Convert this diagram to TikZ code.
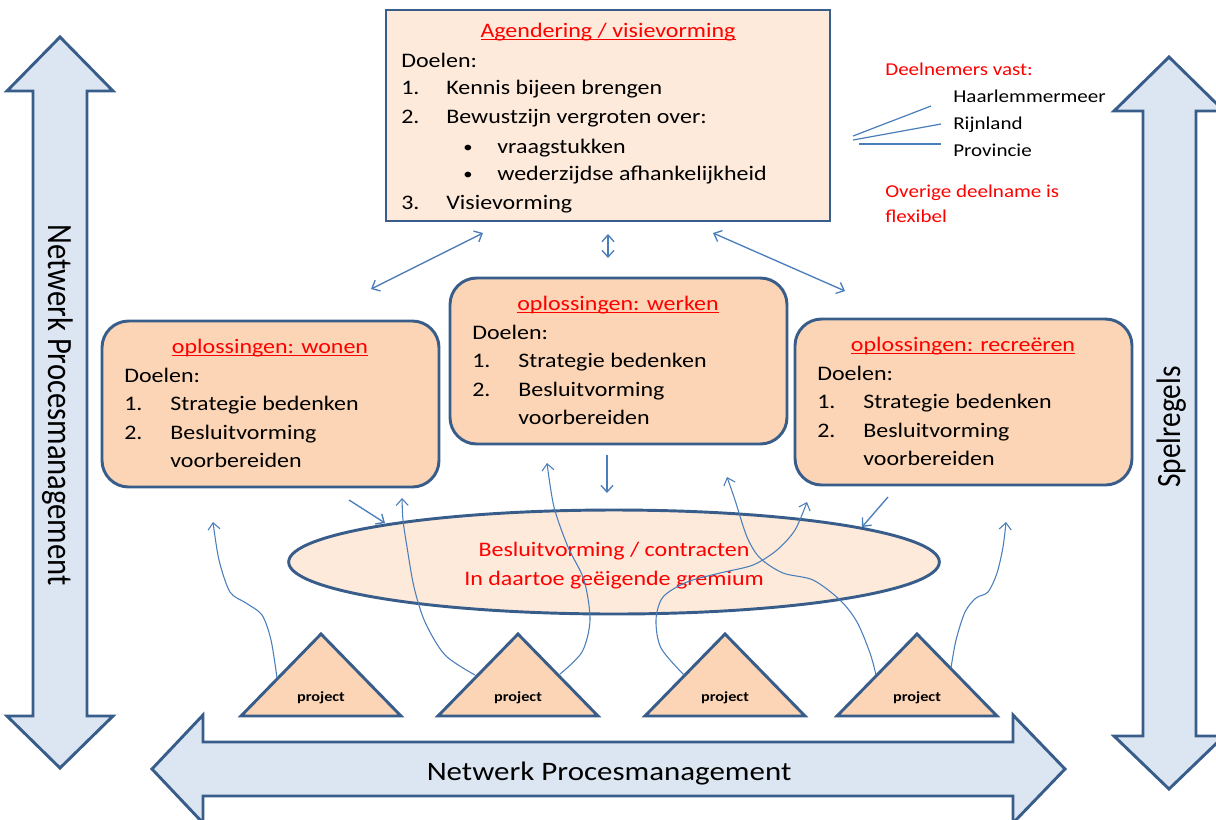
\documentclass[tikz,border=0pt]{standalone}
\usepackage{fontspec}
\setmainfont{Carlito}
\usetikzlibrary{arrows.meta,fit,shapes.geometric}

\definecolor{rand}{RGB}{56,93,138}
\definecolor{pijlblauw}{RGB}{220,230,242}
\definecolor{lichtzalm}{RGB}{253,234,218}
\definecolor{zalm}{RGB}{251,213,181}
\definecolor{lijn}{RGB}{74,126,187}
\definecolor{rood}{RGB}{255,0,0}

\newcommand{\onderstreept}[1]{\textcolor{rood}{\setbox0\hbox{#1}\rlap{\rule[-2.3pt]{\wd0}{0.9pt}}\box0}}

\begin{document}
\begin{tikzpicture}[x=0.75pt,y=-0.75pt,
  >={Straight Barb[length=5pt,width=9pt]},
  blok/.style={draw=rand,line width=2.2pt,line join=miter},
  kader/.style={draw=rand,line width=2.2pt,fill=zalm,rounded corners=20pt},
  txt/.style={inner sep=0pt,anchor=base west,xscale=1.16,font=\fontsize{15.5}{18}\selectfont},
  kop/.style={txt,anchor=base},
  rtxt/.style={kop,text=rood},
  ntxt/.style={txt,font=\fontsize{13.6}{16}\selectfont},
  grtxt/.style={inner sep=0pt,anchor=base,xscale=1.16,font=\fontsize{23}{26}\selectfont},
  projtxt/.style={inner sep=0pt,anchor=base,xscale=1.16,font=\fontsize{10.5}{12}\selectfont\bfseries},
  pijl/.style={draw=lijn,line width=1pt,->},
  dpijl/.style={draw=lijn,line width=1pt,<->},
  bocht/.style={draw=lijn,line width=0.8pt,->},
  lijntje/.style={draw=lijn,line width=0.9pt}]
  \useasboundingbox (0,0) rectangle (1216,819);

  % grote pijlen
  \draw[blok,fill=pijlblauw] (60,37) -- (113,91) -- (87,91) -- (87,716) -- (113,716) -- (60,768) -- (7,716) -- (33,716) -- (33,91) -- (7,91) -- cycle;
  \draw[blok,fill=pijlblauw] (1169,57) -- (1224,111) -- (1196,111) -- (1196,736) -- (1224,736) -- (1169,789) -- (1114,736) -- (1143,736) -- (1143,111) -- (1114,111) -- cycle;
  \draw[blok,fill=pijlblauw] (152,769) -- (203,715) -- (203,742) -- (1013,742) -- (1013,715) -- (1065,769) -- (1013,823) -- (1013,796) -- (203,796) -- (203,823) -- cycle;
  \node[grtxt,rotate=-90] (proceslinks) at (48,405) {Netwerk Procesmanagement};
  \node[grtxt,rotate=90,font=\fontsize{22}{26}\selectfont] (spelregels) at (1180,427) {Spelregels};
  \node[grtxt,font=\fontsize{20}{24}\selectfont] (procesonder) at (609,780) {Netwerk Procesmanagement};

  % agendering
  \node[blok,fill=lichtzalm,fit={(386,10) (830,221)},inner sep=0pt] (agenda) {};
  \node[kop] (agendakop) at (608,37) {\onderstreept{Agendering / visievorming}};
  \node[txt] (agendadoel) at (401,67) {Doelen:};
  \foreach \nr/\tekst/\y in {1./Kennis bijeen brengen/94, 2./Bewustzijn vergroten over:/123, 3./Visievorming/209} {
    \node[txt] (nr\y) at (401,\y) {\nr};
    \node[txt] (item\y) at (446,\y) {\tekst};
  }
  \foreach \tekst/\y in {vraagstukken/153, wederzijdse afhankelijkheid/180} {
    \node[txt,font=\fontsize{12}{14}\selectfont] (bol\y) at (463,\y-1) {\textbullet};
    \node[txt] (item\y) at (497,\y) {\tekst};
  }

  % deelnemers
  \node[ntxt,text=rood] (vast) at (885,75) {Deelnemers vast:};
  \node[ntxt] (haarlem) at (953,102) {Haarlemmermeer};
  \node[ntxt] (rijnland) at (953,129) {Rijnland};
  \node[ntxt] (provincie) at (953,156) {Provincie};
  \node[ntxt,text=rood] (overig) at (885,197) {Overige deelname is};
  \node[ntxt,text=rood] (flexibel) at (885,222) {flexibel};
  \coordinate (waaier1) at (853,136);
  \coordinate (waaier2) at (853,140);
  \coordinate (waaier3) at (859,144);
  \coordinate (naarhaarlem) at (931,106);
  \coordinate (naarrijnland) at (941,124);
  \coordinate (naarprovincie) at (941,144);
  \draw[lijntje] (waaier1) -- (naarhaarlem);
  \draw[lijntje] (waaier2) -- (naarrijnland);
  \draw[lijntje] (waaier3) -- (naarprovincie);

  % oplossingen
  \foreach \x/\y/\soort in {102/321/wonen, 450/278/werken, 795/319/recreëren} {
    \node[kader,fit={(\x,\y) (\x+337,\y+166)},inner sep=0pt] (\soort) {};
    \node[kop] (\soort-kop) at (\x+168,\y+32) {\onderstreept{oplossingen: \soort}};
    \node[txt] (\soort-doel) at (\x+22,\y+61) {Doelen:};
    \node[txt] (\soort-nr1) at (\x+22,\y+89) {1.};
    \node[txt] (\soort-item1) at (\x+68,\y+89) {Strategie bedenken};
    \node[txt] (\soort-nr2) at (\x+22,\y+118) {2.};
    \node[txt] (\soort-item2) at (\x+68,\y+118) {Besluitvorming};
    \node[txt] (\soort-item3) at (\x+68,\y+146) {voorbereiden};
  }

  % besluitvorming
  \node[draw=rand,line width=2.2pt,fill=lichtzalm,ellipse,minimum width=488pt,minimum height=78pt,inner sep=0pt] (gremium) at (614,562) {};
  \node[rtxt] (gremium1) at (614,556) {Besluitvorming / contracten};
  \node[rtxt] (gremium2) at (614,585) {In daartoe geëigende gremium};

  % projecten
  \foreach \x/\n in {321/1, 518/2, 725/3, 917/4} {
    \draw[blok,fill=zalm] (\x-80,716) -- (\x,634) -- (\x+80,716) -- cycle;
    \node[projtxt] (project\n) at (\x,701) {project};
  }

  % pijlen
  \coordinate (agendalinks) at (483,233);
  \coordinate (agendamidden) at (608,234);
  \coordinate (agendarechts) at (713,233);
  \coordinate (woneninvoer) at (371,289);
  \coordinate (werkeninvoer) at (608,258);
  \coordinate (recreeren-invoer) at (845,291);
  \draw[dpijl] (woneninvoer) -- (agendalinks);
  \draw[dpijl] (agendamidden) -- (werkeninvoer);
  \draw[dpijl] (agendarechts) -- (recreeren-invoer);

  \coordinate (wonenuit) at (349,500);
  \coordinate (werkenuit) at (607,455);
  \coordinate (recreerenuit) at (888,497);
  \coordinate (gremiumlinks) at (385,523);
  \coordinate (gremiummidden) at (607,493);
  \coordinate (gremiumrechts) at (862,527);
  \draw[pijl] (wonenuit) -- (gremiumlinks);
  \draw[pijl] (werkenuit) -- (gremiummidden);
  \draw[pijl] (recreerenuit) -- (gremiumrechts);

  \coordinate (t1l) at (277,678);
  \coordinate (t2l) at (475,675);
  \coordinate (t2r) at (560,674);
  \coordinate (t3l) at (684,675);
  \coordinate (t4l) at (876,675);
  \coordinate (t4r) at (951,668);
  \draw[bocht] plot[smooth] coordinates {(t1l) (271,640) (262,615) (246,603) (230,592) (219,560) (213,522)};
  \draw[bocht] plot[smooth] coordinates {(t2l) (445,655) (425,622) (414,587) (407,547) (403,520) (402,498)};
  \draw[bocht] plot[smooth] coordinates {(t2r) (582,652) (590,620) (584,580) (568,547) (554,507) (547,463)};
  \draw[bocht] plot[smooth] coordinates {(t3l) (661,648) (656,620) (663,597) (687,582) (720,573) (753,565) (777,550) (795,530) (807,502)};
  \draw[bocht] plot[smooth] coordinates {(t4l) (870,653) (857,622) (840,600) (813,580) (783,573) (760,558) (747,537) (735,500) (727,477)};
  \draw[bocht] plot[smooth] coordinates {(t4r) (956,640) (965,612) (976,598) (988,592) (997,573) (1003,547) (1006,522)};
\end{tikzpicture}
\end{document}
